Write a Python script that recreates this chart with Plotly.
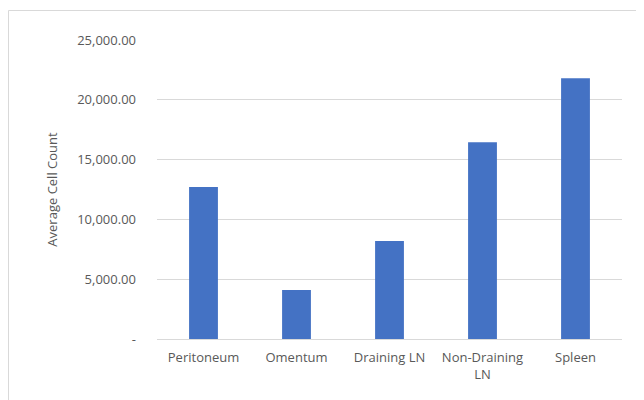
import plotly.graph_objects as go

categories = ["Peritoneum", "Omentum", "Draining LN", "Non-Draining<br>LN", "Spleen"]
values = [12700, 4100, 8200, 16450, 21800]
ytick_vals = [0, 5000, 10000, 15000, 20000, 25000]
ytick_text = ["-", "5,000.00", "10,000.00", "15,000.00", "20,000.00", "25,000.00"]

fig = go.Figure(go.Bar(x=categories, y=values, marker=dict(color="#4472C4", line=dict(width=0))))

OFF = 8  # page body margin
W, H = 644, 400
L, T = 157 - OFF, 40 - OFF
R = W - (622 - OFF)
B = H - (339 - OFF)
pw, ph = W - L - R, H - T - B

fig.update_layout(
    width=W, height=H,
    margin=dict(l=L, r=R, t=T, b=B),
    paper_bgcolor="white", plot_bgcolor="white",
    bargap=0.69,
    showlegend=False,
    font=dict(family="Open Sans, sans-serif", size=13, color="#595959"),
    xaxis=dict(showgrid=False, showline=True, linecolor="#D9D9D9", linewidth=1,
               ticks="", ticklabelstandoff=6, tickfont=dict(size=13, color="#595959")),
    yaxis=dict(range=[0, 25000], tickvals=ytick_vals, ticktext=ytick_text,
               showgrid=True, gridcolor="#D9D9D9", gridwidth=1, zeroline=False,
               showline=False, ticks="", ticklen=0, ticklabelstandoff=20,
               tickfont=dict(size=13, color="#595959"),
               title=dict(text="Average Cell Count", font=dict(size=13, color="#595959"), standoff=16)),
    shapes=[dict(type="rect", xref="paper", yref="paper",
                 x0=(8.5 - OFF - L) / pw, x1=(660 - L) / pw,
                 y0=(H - B - 420) / ph, y1=(H - B - (10.5 - OFF)) / ph,
                 line=dict(color="#D9D9D9", width=1), fillcolor="rgba(0,0,0,0)", layer="below")],
)

fig.write_html("out.html")
